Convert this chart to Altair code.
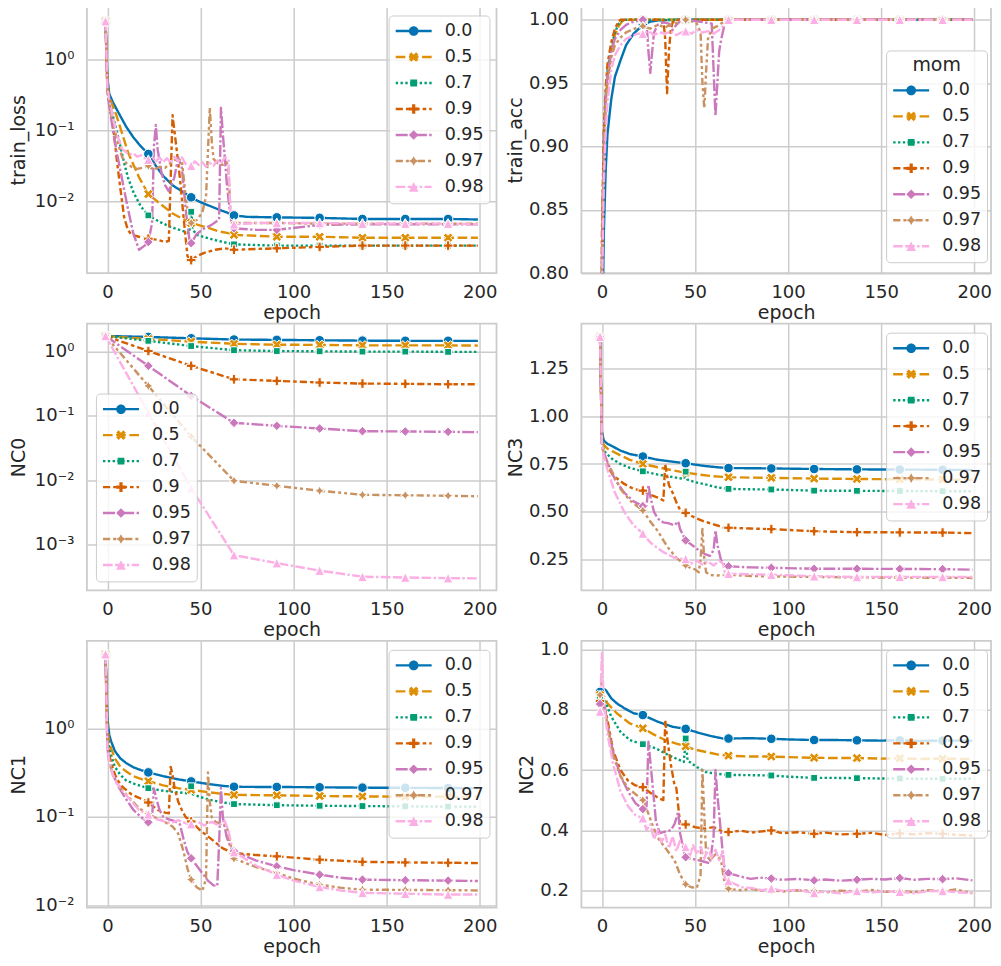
import altair as alt
import pandas as pd

MOMS = ["0.0", "0.5", "0.7", "0.9", "0.95", "0.97", "0.98"]
COLORS = ["#0173b2", "#de8f05", "#029e73", "#d55e00", "#cc78bc", "#ca9161", "#fbafe4"]
MARK_EPOCHS = [-1, 22, 45, 68, 91, 114, 137, 160, 183]
X_TICKS = [0, 50, 100, 150, 200]

train_loss = {
    "0.0": [(-1, 3.5), (0, 0.55), (1, 0.33), (3, 0.25), (5, 0.2), (7, 0.16), (10, 0.115), (14, 0.08), (18, 0.06), (22, 0.047), (26, 0.032), (30, 0.023), (35, 0.017), (40, 0.014), (45, 0.0115), (50, 0.0098), (55, 0.0087), (60, 0.0077), (65, 0.0069), (68, 0.0064), (75, 0.0061), (91, 0.006), (114, 0.0059), (137, 0.0057), (160, 0.0057), (183, 0.0057), (199, 0.0056)],
    "0.5": [(-1, 3.5), (0, 0.45), (1, 0.3), (3, 0.22), (5, 0.16), (8, 0.09), (11, 0.05), (14, 0.033), (17, 0.022), (22, 0.0128), (28, 0.0095), (35, 0.0068), (40, 0.0058), (45, 0.005), (50, 0.0046), (55, 0.0042), (60, 0.0038), (65, 0.0036), (68, 0.0034), (80, 0.0033), (91, 0.0032), (114, 0.0032), (137, 0.0031), (160, 0.0031), (183, 0.0031), (199, 0.0031)],
    "0.7": [(-1, 3.5), (0, 0.42), (1, 0.28), (3, 0.16), (5, 0.1), (7, 0.06), (9, 0.035), (11, 0.022), (14, 0.0135), (18, 0.0085), (22, 0.0064), (28, 0.0052), (34, 0.0044), (40, 0.0039), (44, 0.0036), (45, 0.0072), (46, 0.004), (48, 0.0034), (55, 0.003), (62, 0.0027), (68, 0.0025), (91, 0.0024), (114, 0.0024), (137, 0.0024), (160, 0.0024), (183, 0.0024), (199, 0.0024)],
    "0.9": [(-1, 3.5), (0, 0.38), (1, 0.25), (3, 0.12), (5, 0.04), (7, 0.015), (9, 0.006), (11, 0.004), (13, 0.0034), (17, 0.0032), (22, 0.003), (27, 0.0029), (31, 0.0027), (33, 0.0028), (35, 0.165), (37, 0.06), (39, 0.021), (41, 0.0057), (43, 0.0017), (45, 0.0015), (48, 0.0017), (52, 0.0019), (58, 0.0021), (63, 0.0022), (68, 0.0021), (91, 0.0022), (114, 0.0023), (137, 0.0024), (160, 0.0024), (183, 0.0024), (199, 0.0024)],
    "0.95": [(-1, 3.5), (0, 0.35), (1, 0.22), (3, 0.1), (5, 0.05), (8, 0.02), (11, 0.008), (14, 0.0035), (17, 0.0021), (20, 0.0024), (22, 0.0027), (24, 0.005), (25, 0.06), (26, 0.12), (27, 0.054), (29, 0.026), (31, 0.017), (33, 0.014), (36, 0.022), (38, 0.042), (40, 0.03), (42, 0.008), (44, 0.003), (45, 0.0026), (48, 0.0035), (52, 0.0042), (56, 0.0047), (60, 0.0056), (61, 0.21), (62, 0.09), (63, 0.044), (64, 0.02), (65, 0.011), (66, 0.0065), (67, 0.0046), (68, 0.0042), (80, 0.004), (91, 0.004), (114, 0.0047), (137, 0.0048), (160, 0.0048), (183, 0.0048), (199, 0.0048)],
    "0.97": [(-1, 3.5), (0, 0.36), (1, 0.25), (3, 0.14), (5, 0.075), (8, 0.042), (10, 0.035), (13, 0.031), (16, 0.029), (19, 0.03), (22, 0.032), (25, 0.028), (28, 0.031), (31, 0.03), (34, 0.035), (37, 0.04), (40, 0.038), (42, 0.012), (44, 0.0052), (45, 0.005), (48, 0.0055), (51, 0.007), (53, 0.012), (55, 0.21), (56, 0.074), (57, 0.04), (59, 0.035), (62, 0.033), (64, 0.036), (65, 0.03), (66, 0.008), (67, 0.0052), (68, 0.005), (91, 0.005), (114, 0.0049), (137, 0.0049), (160, 0.0049), (183, 0.0049), (199, 0.0049)],
    "0.98": [(-1, 3.5), (0, 0.4), (1, 0.28), (3, 0.15), (5, 0.09), (8, 0.055), (10, 0.05), (12, 0.046), (14, 0.048), (16, 0.043), (18, 0.045), (20, 0.041), (22, 0.039), (24, 0.044), (26, 0.037), (28, 0.042), (30, 0.036), (32, 0.041), (34, 0.035), (36, 0.043), (38, 0.037), (40, 0.042), (42, 0.034), (45, 0.032), (47, 0.037), (49, 0.033), (51, 0.036), (53, 0.031), (55, 0.035), (57, 0.032), (59, 0.038), (61, 0.034), (63, 0.042), (65, 0.04), (66, 0.008), (67, 0.0052), (68, 0.0048), (80, 0.005), (91, 0.005), (114, 0.005), (137, 0.0049), (160, 0.0049), (183, 0.0049), (199, 0.0048)],
}

train_acc = {
    "0.0": [(-1, 0.1), (0, 0.72), (1, 0.83), (2, 0.88), (3, 0.91), (5, 0.937), (7, 0.955), (10, 0.968), (13, 0.98), (17, 0.989), (22, 0.996), (26, 0.9985), (30, 0.9995), (40, 1.0), (45, 1.0), (68, 1.0), (91, 1.0), (114, 1.0), (137, 1.0), (160, 1.0), (183, 1.0), (199, 1.0)],
    "0.5": [(-1, 0.1), (0, 0.8), (1, 0.9), (2, 0.935), (3, 0.955), (5, 0.975), (7, 0.988), (9, 0.995), (11, 0.999), (13, 1.0), (22, 1.0), (45, 1.0), (68, 1.0), (91, 1.0), (114, 1.0), (137, 1.0), (160, 1.0), (183, 1.0), (199, 1.0)],
    "0.7": [(-1, 0.1), (0, 0.81), (1, 0.905), (2, 0.94), (3, 0.96), (5, 0.978), (7, 0.99), (9, 0.997), (11, 1.0), (22, 1.0), (45, 1.0), (68, 1.0), (91, 1.0), (114, 1.0), (137, 1.0), (160, 1.0), (183, 1.0), (199, 1.0)],
    "0.9": [(-1, 0.1), (0, 0.83), (1, 0.91), (2, 0.945), (3, 0.965), (5, 0.982), (7, 0.993), (9, 0.999), (10, 1.0), (22, 1.0), (33, 1.0), (34, 0.985), (35, 0.942), (36, 0.975), (37, 0.992), (38, 0.998), (40, 1.0), (45, 1.0), (68, 1.0), (91, 1.0), (114, 1.0), (137, 1.0), (160, 1.0), (183, 1.0), (199, 1.0)],
    "0.95": [(-1, 0.1), (0, 0.81), (1, 0.9), (2, 0.935), (3, 0.955), (5, 0.975), (7, 0.985), (10, 0.992), (13, 0.996), (16, 0.998), (19, 0.999), (22, 1.0), (24, 0.998), (25, 0.975), (26, 0.958), (27, 0.975), (28, 0.99), (30, 0.996), (33, 0.998), (36, 0.997), (38, 0.992), (40, 0.996), (42, 0.999), (45, 1.0), (50, 0.999), (55, 0.998), (59, 0.997), (60, 0.96), (61, 0.924), (62, 0.95), (63, 0.975), (64, 0.984), (66, 0.997), (67, 1.0), (68, 1.0), (91, 1.0), (114, 1.0), (137, 1.0), (160, 1.0), (183, 1.0), (199, 1.0)],
    "0.97": [(-1, 0.1), (0, 0.8), (1, 0.89), (2, 0.93), (3, 0.95), (5, 0.97), (7, 0.98), (10, 0.986), (13, 0.99), (16, 0.992), (19, 0.994), (22, 0.995), (26, 0.993), (30, 0.996), (34, 0.994), (38, 0.997), (42, 0.998), (45, 1.0), (48, 0.999), (51, 0.997), (53, 0.99), (54, 0.95), (55, 0.93), (56, 0.96), (57, 0.985), (59, 0.993), (62, 0.995), (65, 0.998), (67, 1.0), (68, 1.0), (91, 1.0), (114, 1.0), (137, 1.0), (160, 1.0), (183, 1.0), (199, 1.0)],
    "0.98": [(-1, 0.1), (0, 0.78), (1, 0.87), (2, 0.91), (3, 0.935), (5, 0.96), (7, 0.972), (10, 0.98), (13, 0.985), (16, 0.987), (19, 0.989), (22, 0.989), (25, 0.991), (28, 0.988), (31, 0.99), (34, 0.989), (37, 0.991), (40, 0.988), (43, 0.99), (45, 0.991), (48, 0.989), (51, 0.992), (54, 0.99), (57, 0.991), (60, 0.989), (63, 0.992), (65, 0.995), (67, 1.0), (68, 1.0), (91, 1.0), (114, 1.0), (137, 1.0), (160, 1.0), (183, 1.0), (199, 1.0)],
}

nc0 = {
    "0.0": [(-1, 1.75), (22, 1.69), (45, 1.61), (68, 1.54), (91, 1.52), (114, 1.50), (137, 1.48), (160, 1.47), (183, 1.47), (199, 1.47)],
    "0.5": [(-1, 1.75), (22, 1.57), (45, 1.43), (68, 1.32), (91, 1.28), (114, 1.27), (137, 1.25), (160, 1.25), (183, 1.25), (199, 1.24)],
    "0.7": [(-1, 1.75), (22, 1.47), (45, 1.22), (68, 1.05), (91, 1.02), (114, 1.01), (137, 1.0), (160, 1.0), (183, 0.99), (199, 0.99)],
    "0.9": [(-1, 1.75), (22, 1.02), (45, 0.60), (68, 0.37), (91, 0.35), (114, 0.33), (137, 0.318), (160, 0.315), (183, 0.31), (199, 0.31)],
    "0.95": [(-1, 1.75), (22, 0.60), (45, 0.204), (68, 0.0778), (91, 0.0699), (114, 0.0635), (137, 0.0577), (160, 0.0571), (183, 0.0564), (199, 0.0558)],
    "0.97": [(-1, 1.75), (22, 0.292), (45, 0.0477), (68, 0.00975), (91, 0.00815), (114, 0.00682), (137, 0.0059), (160, 0.0058), (183, 0.0057), (199, 0.0056)],
    "0.98": [(-1, 1.75), (22, 0.112), (45, 0.0075), (68, 0.00068), (91, 0.00051), (114, 0.00039), (137, 0.000313), (160, 0.000305), (183, 0.000298), (199, 0.000295)],
}

nc3 = {
    "0.0": [(-1, 1.415), (0, 0.92), (1, 0.873), (3, 0.855), (5, 0.846), (10, 0.82), (15, 0.802), (22, 0.789), (30, 0.772), (38, 0.762), (45, 0.754), (55, 0.74), (62, 0.733), (68, 0.729), (80, 0.728), (91, 0.727), (114, 0.724), (137, 0.722), (160, 0.721), (183, 0.72), (199, 0.719)],
    "0.5": [(-1, 1.415), (0, 0.9), (1, 0.85), (3, 0.83), (5, 0.82), (10, 0.795), (15, 0.772), (22, 0.75), (30, 0.733), (38, 0.717), (45, 0.705), (52, 0.695), (60, 0.686), (68, 0.681), (80, 0.679), (91, 0.678), (114, 0.674), (137, 0.672), (160, 0.67), (183, 0.669), (199, 0.668)],
    "0.7": [(-1, 1.415), (0, 0.88), (1, 0.82), (3, 0.8), (5, 0.78), (10, 0.75), (15, 0.73), (22, 0.712), (30, 0.695), (38, 0.682), (44, 0.672), (45, 0.71), (46, 0.668), (50, 0.655), (55, 0.645), (62, 0.628), (68, 0.62), (80, 0.618), (91, 0.617), (114, 0.611), (137, 0.61), (160, 0.609), (183, 0.608), (199, 0.608)],
    "0.9": [(-1, 1.415), (0, 0.86), (1, 0.8), (3, 0.74), (6, 0.69), (12, 0.646), (17, 0.62), (22, 0.611), (26, 0.59), (30, 0.575), (33, 0.56), (34, 0.75), (35, 0.69), (36, 0.64), (38, 0.6), (40, 0.55), (42, 0.51), (45, 0.495), (50, 0.47), (55, 0.45), (60, 0.435), (65, 0.42), (68, 0.417), (80, 0.413), (91, 0.41), (114, 0.399), (137, 0.394), (160, 0.393), (183, 0.392), (199, 0.389)],
    "0.95": [(-1, 1.415), (0, 0.86), (1, 0.81), (3, 0.76), (7, 0.67), (12, 0.6), (17, 0.555), (22, 0.53), (24, 0.53), (25, 0.64), (26, 0.58), (28, 0.5), (30, 0.465), (33, 0.445), (36, 0.44), (39, 0.43), (40, 0.44), (41, 0.45), (42, 0.41), (45, 0.351), (48, 0.33), (52, 0.3), (55, 0.281), (58, 0.27), (60, 0.3), (61, 0.403), (62, 0.33), (64, 0.247), (66, 0.222), (68, 0.216), (80, 0.21), (91, 0.208), (114, 0.203), (137, 0.203), (160, 0.202), (183, 0.201), (199, 0.198)],
    "0.97": [(-1, 1.415), (0, 0.86), (1, 0.8), (3, 0.75), (5, 0.72), (10, 0.62), (15, 0.56), (22, 0.507), (26, 0.45), (30, 0.4), (35, 0.32), (40, 0.26), (45, 0.221), (48, 0.205), (50, 0.2), (52, 0.185), (53, 0.25), (54, 0.411), (55, 0.25), (56, 0.185), (58, 0.17), (62, 0.168), (65, 0.17), (68, 0.172), (80, 0.165), (91, 0.163), (114, 0.16), (137, 0.158), (160, 0.157), (183, 0.156), (199, 0.155)],
    "0.98": [(-1, 1.415), (0, 0.86), (1, 0.79), (3, 0.72), (7, 0.6), (12, 0.5), (17, 0.43), (22, 0.387), (26, 0.34), (30, 0.31), (33, 0.29), (36, 0.275), (39, 0.26), (42, 0.255), (45, 0.254), (48, 0.23), (51, 0.245), (54, 0.225), (57, 0.24), (60, 0.22), (63, 0.245), (65, 0.23), (66, 0.185), (68, 0.177), (80, 0.174), (91, 0.172), (114, 0.164), (137, 0.16), (160, 0.161), (183, 0.16), (199, 0.16)],
}

nc1 = {
    "0.0": [(-1, 7.0), (0, 1.3), (1, 0.85), (2, 0.72), (4, 0.56), (7, 0.46), (10, 0.41), (14, 0.365), (18, 0.34), (22, 0.32), (30, 0.29), (38, 0.267), (45, 0.253), (55, 0.235), (62, 0.225), (68, 0.22), (80, 0.219), (91, 0.219), (114, 0.217), (137, 0.215), (160, 0.214), (183, 0.213), (199, 0.212)],
    "0.5": [(-1, 7.0), (0, 1.0), (1, 0.7), (2, 0.6), (4, 0.46), (7, 0.37), (10, 0.33), (14, 0.29), (18, 0.27), (22, 0.254), (30, 0.228), (38, 0.212), (45, 0.203), (55, 0.19), (62, 0.183), (68, 0.178), (80, 0.177), (91, 0.176), (114, 0.173), (137, 0.171), (160, 0.17), (183, 0.17), (199, 0.17)],
    "0.7": [(-1, 7.0), (0, 0.9), (1, 0.6), (2, 0.5), (4, 0.37), (7, 0.3), (10, 0.26), (15, 0.235), (22, 0.212), (30, 0.198), (38, 0.19), (44, 0.185), (45, 0.223), (46, 0.18), (50, 0.168), (56, 0.155), (62, 0.146), (68, 0.14), (80, 0.138), (91, 0.136), (114, 0.134), (137, 0.133), (160, 0.132), (183, 0.131), (199, 0.131)],
    "0.9": [(-1, 7.0), (0, 0.7), (1, 0.5), (3, 0.35), (5, 0.27), (8, 0.22), (13, 0.18), (17, 0.165), (22, 0.146), (27, 0.12), (31, 0.112), (33, 0.11), (34, 0.37), (35, 0.3), (36, 0.217), (38, 0.15), (40, 0.12), (42, 0.1), (45, 0.089), (50, 0.07), (55, 0.058), (62, 0.044), (68, 0.039), (80, 0.037), (91, 0.0358), (114, 0.0328), (137, 0.031), (160, 0.0305), (183, 0.0303), (199, 0.030)],
    "0.95": [(-1, 7.0), (0, 0.6), (1, 0.42), (3, 0.3), (6, 0.22), (10, 0.16), (14, 0.12), (18, 0.1), (22, 0.087), (24, 0.1), (25, 0.21), (26, 0.17), (28, 0.12), (30, 0.1), (33, 0.094), (36, 0.09), (39, 0.082), (41, 0.055), (43, 0.04), (45, 0.034), (48, 0.028), (51, 0.023), (54, 0.019), (57, 0.0168), (59, 0.0165), (60, 0.05), (61, 0.213), (62, 0.1), (64, 0.06), (66, 0.046), (68, 0.041), (80, 0.032), (91, 0.0276), (100, 0.025), (114, 0.0222), (125, 0.0205), (137, 0.0195), (160, 0.0192), (183, 0.019), (199, 0.0188)],
    "0.97": [(-1, 7.0), (0, 0.6), (1, 0.42), (3, 0.3), (5, 0.25), (8, 0.2), (13, 0.155), (17, 0.125), (22, 0.109), (25, 0.1), (30, 0.09), (35, 0.078), (38, 0.065), (41, 0.04), (43, 0.026), (45, 0.0195), (48, 0.016), (51, 0.0145), (53, 0.02), (54, 0.32), (55, 0.15), (56, 0.1), (58, 0.088), (61, 0.083), (64, 0.08), (66, 0.05), (68, 0.0337), (80, 0.027), (91, 0.0232), (100, 0.02), (114, 0.0171), (125, 0.0158), (137, 0.015), (160, 0.0149), (183, 0.0148), (199, 0.0147)],
    "0.98": [(-1, 7.0), (0, 0.6), (1, 0.42), (3, 0.3), (5, 0.24), (8, 0.2), (13, 0.15), (17, 0.12), (22, 0.107), (26, 0.095), (30, 0.09), (34, 0.085), (38, 0.092), (42, 0.085), (45, 0.083), (48, 0.09), (52, 0.08), (56, 0.088), (60, 0.08), (63, 0.09), (65, 0.07), (67, 0.045), (68, 0.04), (80, 0.028), (91, 0.0222), (100, 0.019), (114, 0.0161), (125, 0.0147), (137, 0.0138), (160, 0.0135), (183, 0.0132), (199, 0.0132)],
}

nc2 = {
    "0.0": [(-1, 0.86), (0, 0.87), (2, 0.867), (5, 0.839), (8, 0.822), (12, 0.806), (17, 0.789), (22, 0.783), (30, 0.761), (38, 0.744), (45, 0.737), (52, 0.724), (58, 0.714), (65, 0.705), (68, 0.705), (80, 0.706), (91, 0.704), (100, 0.702), (114, 0.7), (125, 0.7), (137, 0.699), (150, 0.698), (160, 0.699), (170, 0.697), (183, 0.698), (199, 0.698)],
    "0.5": [(-1, 0.85), (0, 0.86), (3, 0.822), (8, 0.789), (15, 0.755), (22, 0.739), (28, 0.718), (34, 0.70), (40, 0.688), (45, 0.679), (50, 0.668), (56, 0.66), (62, 0.652), (68, 0.648), (80, 0.645), (91, 0.645), (100, 0.643), (114, 0.641), (125, 0.64), (137, 0.64), (150, 0.638), (160, 0.639), (170, 0.637), (183, 0.638), (199, 0.637)],
    "0.7": [(-1, 0.84), (0, 0.85), (2, 0.825), (5, 0.778), (10, 0.727), (15, 0.70), (22, 0.686), (29, 0.672), (36, 0.649), (44, 0.627), (45, 0.705), (46, 0.632), (51, 0.61), (56, 0.593), (61, 0.588), (68, 0.584), (80, 0.583), (91, 0.582), (100, 0.578), (114, 0.574), (125, 0.574), (137, 0.573), (150, 0.572), (160, 0.572), (170, 0.571), (183, 0.571), (199, 0.571)],
    "0.9": [(-1, 0.83), (0, 0.85), (1, 0.82), (3, 0.766), (6, 0.666), (10, 0.6), (14, 0.565), (18, 0.549), (22, 0.543), (27, 0.52), (31, 0.505), (33, 0.5), (34, 0.766), (35, 0.71), (37, 0.62), (39, 0.55), (40, 0.54), (41, 0.48), (42, 0.421), (45, 0.419), (50, 0.41), (55, 0.405), (60, 0.41), (64, 0.398), (68, 0.394), (75, 0.398), (80, 0.392), (86, 0.396), (91, 0.399), (97, 0.39), (105, 0.393), (114, 0.388), (120, 0.392), (128, 0.386), (137, 0.388), (145, 0.391), (152, 0.384), (160, 0.389), (168, 0.386), (175, 0.39), (183, 0.388), (190, 0.385), (199, 0.382)],
    "0.95": [(-1, 0.82), (0, 0.88), (1, 0.83), (3, 0.75), (6, 0.66), (10, 0.58), (14, 0.53), (18, 0.49), (22, 0.47), (24, 0.48), (25, 0.694), (26, 0.63), (27, 0.565), (29, 0.431), (31, 0.39), (34, 0.395), (37, 0.4), (39, 0.42), (40, 0.44), (41, 0.462), (42, 0.39), (44, 0.33), (45, 0.31), (48, 0.305), (52, 0.3), (55, 0.295), (58, 0.29), (60, 0.38), (61, 0.6), (62, 0.52), (63, 0.454), (65, 0.32), (66, 0.264), (68, 0.257), (75, 0.245), (80, 0.238), (85, 0.242), (91, 0.239), (97, 0.235), (105, 0.238), (114, 0.233), (120, 0.236), (128, 0.232), (137, 0.235), (145, 0.238), (152, 0.236), (160, 0.241), (168, 0.235), (175, 0.238), (183, 0.237), (190, 0.24), (199, 0.233)],
    "0.97": [(-1, 0.85), (0, 0.9), (1, 0.83), (3, 0.75), (6, 0.65), (10, 0.58), (14, 0.54), (18, 0.52), (22, 0.5), (25, 0.455), (27, 0.42), (30, 0.375), (33, 0.35), (36, 0.325), (39, 0.3), (42, 0.252), (45, 0.22), (48, 0.21), (51, 0.208), (53, 0.25), (54, 0.6), (55, 0.45), (56, 0.32), (58, 0.3), (61, 0.32), (64, 0.3), (66, 0.22), (68, 0.205), (75, 0.2), (80, 0.205), (86, 0.198), (91, 0.2), (97, 0.196), (105, 0.2), (114, 0.198), (120, 0.193), (128, 0.199), (137, 0.196), (145, 0.201), (152, 0.195), (160, 0.197), (168, 0.194), (175, 0.2), (183, 0.196), (190, 0.203), (199, 0.19)],
    "0.98": [(-1, 0.795), (0, 0.99), (1, 0.83), (3, 0.72), (6, 0.62), (10, 0.53), (14, 0.48), (18, 0.45), (22, 0.44), (24, 0.4), (26, 0.42), (28, 0.37), (30, 0.4), (32, 0.36), (34, 0.385), (36, 0.34), (38, 0.38), (40, 0.33), (42, 0.365), (45, 0.344), (47, 0.31), (49, 0.35), (51, 0.32), (53, 0.345), (55, 0.305), (57, 0.34), (59, 0.31), (61, 0.335), (63, 0.3), (65, 0.33), (66, 0.24), (68, 0.231), (75, 0.21), (80, 0.208), (86, 0.2), (91, 0.206), (97, 0.198), (105, 0.202), (114, 0.191), (120, 0.196), (128, 0.19), (137, 0.198), (145, 0.193), (152, 0.197), (160, 0.195), (168, 0.19), (175, 0.197), (183, 0.198), (190, 0.194), (199, 0.191)],
}

# ---------------- styling ----------------
LW = 2.4
DASHES = [[1, 0], [9.6, 3.6], [2.4, 2.4], [7.2, 3, 3.6, 3], [12, 2.4, 2.4, 2.4],
          [7.2, 3, 3, 3, 3, 3], [9.6, 2.4, 9.6, 2.4, 2.4, 2.4]]
PT_SIZE = 1406.25          # sqrt = 37.5 -> custom paths scaled by 18.75
U = 18.75
PANEL_W, PANEL_H = 410, 267


def poly(pts):
    return "M" + " L".join(f"{x / U:.4f},{y / U:.4f}" for x, y in pts) + " Z"


def circle(r):
    a, k = r / U, 0.5523 * r / U
    return (f"M{a:.4f},0 C{a:.4f},{k:.4f} {k:.4f},{a:.4f} 0,{a:.4f} "
            f"C{-k:.4f},{a:.4f} {-a:.4f},{k:.4f} {-a:.4f},0 "
            f"C{-a:.4f},{-k:.4f} {-k:.4f},{-a:.4f} 0,{-a:.4f} "
            f"C{k:.4f},{-a:.4f} {a:.4f},{-k:.4f} {a:.4f},0 Z")


R = 4.8
SHAPES = [
    circle(R),
    poly([(-2.4, -4.8), (0, -2.4), (2.4, -4.8), (4.8, -2.4), (2.4, 0), (4.8, 2.4),
          (2.4, 4.8), (0, 2.4), (-2.4, 4.8), (-4.8, 2.4), (-2.4, 0), (-4.8, -2.4)]),
    poly([(-3.4, -3.4), (3.4, -3.4), (3.4, 3.4), (-3.4, 3.4)]),
    poly([(-1.6, -4.8), (1.6, -4.8), (1.6, -1.6), (4.8, -1.6), (4.8, 1.6), (1.6, 1.6),
          (1.6, 4.8), (-1.6, 4.8), (-1.6, 1.6), (-4.8, 1.6), (-4.8, -1.6), (-1.6, -1.6)]),
    poly([(0, -4.8), (4.8, 0), (0, 4.8), (-4.8, 0)]),
    poly([(0, -4.8), (1.7, -1.7), (4.8, 0), (1.7, 1.7), (0, 4.8), (-1.7, 1.7), (-4.8, 0), (-1.7, -1.7)]),
    poly([(0, -4.8), (4.8, 4.8), (-4.8, 4.8)]),
]
SMOMS = ["s" + m for m in MOMS]

FONT = "DejaVu Sans"
TXT = "#262626"

LOG_EXPR = ("datum.value > 0.5 ? '10\u2070' : datum.value > 0.05 ? '10\u207b\u00b9' : "
            "datum.value > 0.005 ? '10\u207b\u00b2' : '10\u207b\u00b3'")

PANELS = [
    dict(name="train_loss", data=train_loss, type="log", domain=[9.8e-4, 5.63], ticks=[1, 0.1, 0.01],
         expr=LOG_EXPR, leg=(302, 9), title=None, tpad=6),
    dict(name="train_acc", data=train_acc, type="linear", domain=[0.8, 1.0105], ticks=[0.8, 0.85, 0.9, 0.95, 1.0],
         fmt=".2f", leg=(305, 44), title="mom", tpad=3),
    dict(name="NC0", data=nc0, type="log", domain=[1.92e-4, 2.72], ticks=[1, 0.1, 0.01, 0.001],
         expr=LOG_EXPR, leg=(9, 70), title=None, tpad=6),
    dict(name="NC3", data=nc3, type="linear", domain=[0.09, 1.483], ticks=[0.25, 0.5, 0.75, 1.0, 1.25],
         fmt=".2f", leg=(305, 9), title=None, tpad=3),
    dict(name="NC1", data=nc1, type="log", domain=[0.0094, 9.92], ticks=[1, 0.1, 0.01],
         expr=LOG_EXPR, leg=(302, 9), title=None, tpad=6),
    dict(name="NC2", data=nc2, type="linear", domain=[0.1425, 1.03], ticks=[0.2, 0.4, 0.6, 0.8, 1.0],
         fmt=".1f", leg=(305, 9), title=None, tpad=3),
]

rows = []
for p in PANELS:
    for m in MOMS:
        for e, v in p["data"][m]:
            rows.append({"panel": p["name"], "mom": m, "epoch": e, "value": v})
df = pd.DataFrame(rows)


def make_legends(lx, ly, title):
    common = dict(orient="none", legendX=lx, legendY=ly, padding=5.6, clipHeight=20, rowPadding=6,
                  symbolOffset=0, labelOffset=11.5, labelFont=FONT, labelFontSize=17.5, labelColor=TXT,
                  titleFont=FONT, titleFontSize=19, titleFontWeight="normal", titleColor=TXT,
                  titlePadding=5.4, titleAnchor="middle")
    line_leg = alt.Legend(symbolType="stroke", symbolSize=1296, symbolStrokeWidth=LW,
                          fillColor="rgba(255,255,255,0.8)", strokeColor="#cccccc", cornerRadius=4,
                          title=title, **common)
    # marker overlay: same geometry, blank texts (the labels come from the line legend)
    pt_leg = alt.Legend(symbolSize=PT_SIZE, symbolStrokeColor="white", symbolStrokeWidth=1,
                        labelExpr="''", title=(" " if title else None), **common)
    return line_leg, pt_leg


def make_panel(p):
    base = alt.Chart(df).transform_filter(alt.datum.panel == p["name"])
    x = alt.X("epoch:Q", scale=alt.Scale(domain=[-11, 209], nice=False, zero=False),
              axis=alt.Axis(values=X_TICKS, title="epoch", labelPadding=10, titlePadding=2, labelFlush=False))
    ax = dict(values=p["ticks"], title=p["name"], labelPadding=13, titlePadding=p["tpad"])
    if "expr" in p:
        ax["labelExpr"] = p["expr"]
    else:
        ax["format"] = p["fmt"]
    y = alt.Y("value:Q", scale=alt.Scale(type=p["type"], domain=p["domain"], nice=False, zero=False),
              axis=alt.Axis(**ax))
    line_leg, pt_leg = make_legends(p["leg"][0], p["leg"][1], p["title"])
    line = base.mark_line(strokeWidth=LW, clip=True, strokeJoin="round").encode(
        x=x, y=y,
        color=alt.Color("mom:N", scale=alt.Scale(domain=MOMS, range=COLORS), legend=line_leg),
        strokeDash=alt.StrokeDash("mom:N", scale=alt.Scale(domain=MOMS, range=DASHES), legend=line_leg),
        order=alt.Order("epoch:Q"),
    )
    pts = base.transform_filter(
        alt.FieldOneOfPredicate(field="epoch", oneOf=MARK_EPOCHS)
    ).transform_calculate(mom_s="'s' + datum.mom").mark_point(
        filled=True, size=PT_SIZE, stroke="white", strokeWidth=1, opacity=1, clip=True
    ).encode(
        x=x, y=y,
        fill=alt.Fill("mom_s:N", scale=alt.Scale(domain=SMOMS, range=COLORS), legend=pt_leg),
        shape=alt.Shape("mom_s:N", scale=alt.Scale(domain=SMOMS, range=SHAPES), legend=pt_leg),
    )
    return alt.layer(line, pts).properties(width=PANEL_W, height=PANEL_H)


chart = alt.concat(*[make_panel(p) for p in PANELS], columns=2,
                   spacing={"row": -0.5, "column": 7}).resolve_scale(
    color="independent", strokeDash="independent", fill="independent", shape="independent"
).properties(
    padding={"left": 0, "top": -3, "right": 0, "bottom": 0}, background="white"
).configure(font=FONT).configure_view(
    stroke="#cccccc", strokeWidth=1.8
).configure_axis(
    labelFont=FONT, labelFontSize=18, labelColor=TXT, titleFont=FONT, titleFontSize=19,
    titleFontWeight="normal", titleColor=TXT, gridColor="#cccccc", gridWidth=1.5,
    domain=False, ticks=False, tickSize=0
)

chart.save("out.html", embed_options={"renderer": "svg", "actions": False})
